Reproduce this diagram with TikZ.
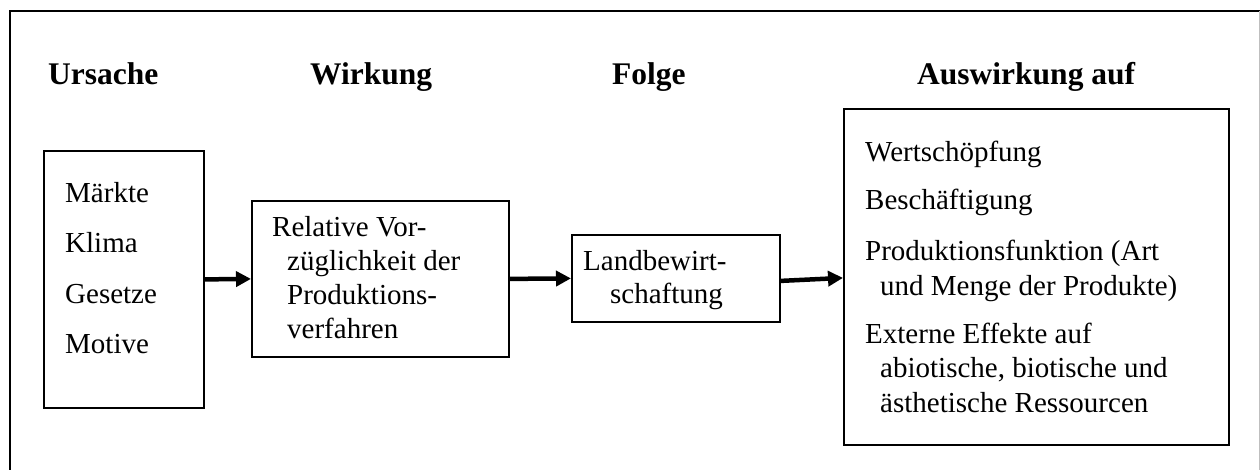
\documentclass[tikz,border=0pt]{standalone}
\usepackage{fontspec}
\setmainfont{Liberation Serif}
\usetikzlibrary{arrows.meta}
\begin{document}
\begin{tikzpicture}[x=1pt,y=-1pt,
  frameline/.style={line width=2.4pt, black},
  boxnode/.style={draw, line width=1.8pt, rectangle, anchor=north west, inner sep=0pt},
  % multi-line text nodes are placed by the baseline of their last line
  txt/.style={anchor=base west, inner sep=0pt, align=left,
    font=\fontsize{29}{#1}\selectfont},
  txt/.default=34.5,
  head/.style={anchor=base west, inner sep=0pt,
    font=\fontsize{31.5}{36}\selectfont\bfseries},
  flow/.style={line width=4.5pt, -{Triangle[length=15pt,width=15pt]}}
]
\useasboundingbox (0,0) rectangle (1260,470);
\fill[white] (0,0) rectangle (1260,470);

% outer frame (runs past the page on the right and bottom)
\draw[frameline] (1260,11) -- (10,11) -- (10,470);
\draw[black!25, line width=1pt] (1259.5,11) -- (1259.5,470);

% column headings
\node[head] (hU) at (48,84.5) {Ursache};
\node[head] (hW) at (310,84.5) {Wirkung};
\node[head] (hF) at (612,84.5) {Folge};
\node[head] (hA) at (917,84.5) {Auswirkung auf};

% boxes
\node[boxnode, minimum width=160pt, minimum height=257pt] (b1) at (43,150) {};
\node[boxnode, minimum width=257pt, minimum height=156pt] (b2) at (251,200) {};
\node[boxnode, minimum width=208pt, minimum height=87pt] (b3) at (571,234) {};
\node[boxnode, minimum width=385pt, minimum height=336pt] (b4) at (843,108) {};

% box 1: causes
\node[txt] (t1a) at (65,203) {Märkte};
\node[txt] (t1b) at (65,253) {Klima};
\node[txt] (t1c) at (65,303) {Gesetze};
\node[txt] (t1d) at (65,353) {Motive};

% box 2: effect
\node[txt=33.7] (t2) at (272,338) {Relative Vor-\\\hspace*{15pt}züglichkeit der\\\hspace*{15pt}Produktions-\\\hspace*{15pt}verfahren};

% box 3: consequence
\node[txt=33] (t3) at (583,303) {Landbewirt-\\\hspace*{27pt}schaftung};

% box 4: impact
\node[txt] (t4a) at (865,162) {Wertschöpfung};
\node[txt] (t4b) at (865,210) {Beschäftigung};
\node[txt=35] (t4c) at (865,295) {Produktionsfunktion (Art\\\hspace*{15pt}und Menge der Produkte)};
\node[txt=34.5] (t4d) at (865,412) {Externe Effekte auf\\\hspace*{15pt}abiotische, biotische und\\\hspace*{15pt}ästhetische Ressourcen};

% arrows
\draw[flow] (b1.east) -- (b2.west);
\draw[flow] (b2.east) -- (b3.west);
\draw[flow] ([yshift=-2.5pt]b3.east) -- ([yshift=-1pt]b4.west);
\end{tikzpicture}
\end{document}
